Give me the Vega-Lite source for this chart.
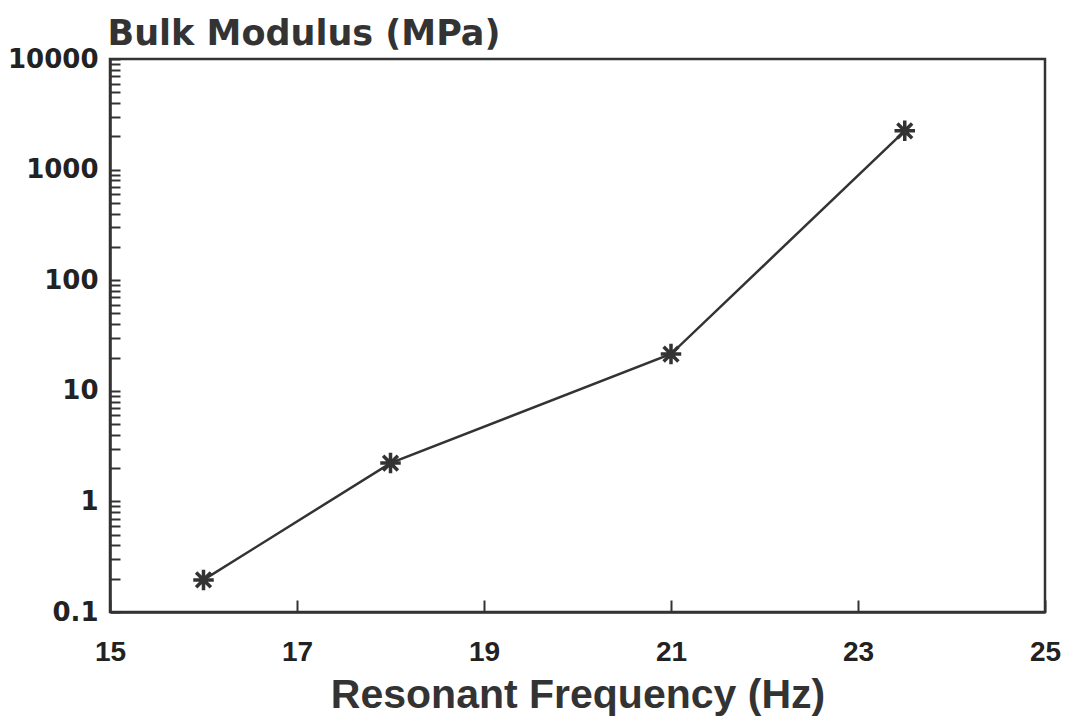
{
  "$schema": "https://vega.github.io/schema/vega-lite/v6.json",
  "autosize": "none",
  "width": 935,
  "height": 553,
  "padding": {"left": 110, "top": 59, "right": 20, "bottom": 113},
  "background": "white",
  "config": {
    "view": {"stroke": "#333333", "strokeWidth": 2.5},
    "axis": {"grid": false, "domainColor": "#333333", "domainWidth": 2.5, "tickColor": "#333333", "tickWidth": 2, "labelColor": "#222222", "titleColor": "#333333"}
  },
  "data": {
    "values": [
      {"freq": 16, "modulus": 0.195},
      {"freq": 18, "modulus": 2.22},
      {"freq": 21, "modulus": 21.5},
      {"freq": 23.5, "modulus": 2240}
    ]
  },
  "encoding": {
    "x": {
      "field": "freq", "type": "quantitative",
      "scale": {"domain": [15, 25], "nice": false, "zero": false},
      "axis": {
        "title": "Resonant Frequency (Hz)",
        "values": [15, 17, 19, 21, 23, 25],
        "tickSize": -12,
        "labelPadding": 38,
        "labelFont": "Liberation Sans Narrow, Liberation Sans",
        "labelFontWeight": "bold",
        "labelFontSize": 28,
        "labelOverlap": false,
        "labelFlush": false,
        "titleFont": "Liberation Sans",
        "titleFontWeight": "bold",
        "titleFontSize": 41,
        "titleBaseline": "alphabetic",
        "titleY": 95
      }
    },
    "y": {
      "field": "modulus", "type": "quantitative",
      "scale": {"type": "log", "domain": [0.1, 10000], "nice": false},
      "axis": {
        "title": "Bulk Modulus (MPa)",
        "values": [0.1,0.2,0.3,0.4,0.5,0.6,0.7,0.8,0.9,1,2,3,4,5,6,7,8,9,10,20,30,40,50,60,70,80,90,100,200,300,400,500,600,700,800,900,1000,2000,3000,4000,5000,6000,7000,8000,9000,10000],
        "labelExpr": "indexof([0.1,1,10,100,1000,10000], datum.value) >= 0 ? toString(datum.value) : ''",
        "tickSize": -10,
        "labelPadding": 22,
        "labelFont": "DejaVu Sans",
        "labelFontWeight": "bold",
        "labelFontSize": 26,
        "labelOverlap": false,
        "labelFlush": false,
        "titleFont": "DejaVu Sans",
        "titleFontWeight": "bold",
        "titleFontSize": 35,
        "titleAngle": 0,
        "titleAlign": "left",
        "titleBaseline": "alphabetic",
        "titleX": -3,
        "titleY": -15
      }
    }
  },
  "layer": [
    {"mark": {"type": "line", "color": "#333333", "strokeWidth": 2.5}},
    {"mark": {"type": "point", "shape": "M-1,0L1,0M0,-1L0,1M-0.72,-0.72L0.72,0.72M-0.72,0.72L0.72,-0.72", "filled": false, "stroke": "#333333", "strokeWidth": 3.5, "size": 420, "opacity": 1}}
  ]
}
